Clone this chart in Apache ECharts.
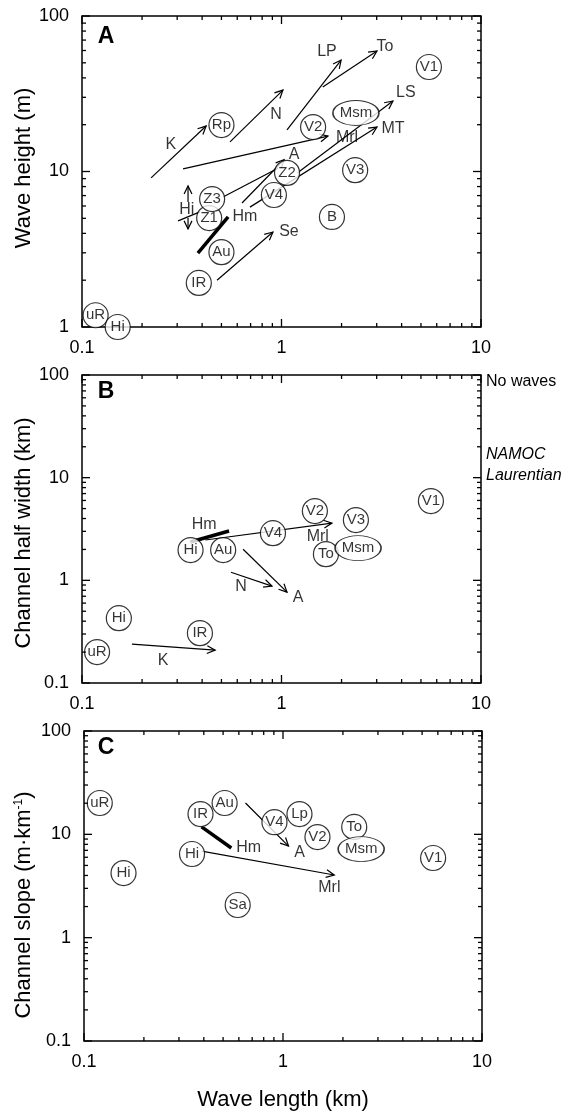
<!DOCTYPE html>
<html>
<head>
<meta charset="utf-8">
<script src="https://cdn.jsdelivr.net/npm/echarts@6/dist/echarts.min.js"></script>
<style>
  html, body { margin: 0; padding: 0; background: #fff; }
  #chart { width: 570px; height: 1114px; }
</style>
</head>
<body>
<div id="chart"></div>
<script>
// tick values (log axes)
const X_MAJOR = [0.1, 1, 10];
const X_MINOR = [0.2, 0.3, 0.4, 0.5, 0.6, 0.7, 0.8, 0.9, 2, 3, 4, 5, 6, 7, 8, 9];
const Y_MAJOR_A = [1, 10, 100];
const Y_MINOR_A = [2, 3, 4, 5, 6, 7, 8, 9, 20, 30, 40, 50, 60, 70, 80, 90];
const Y_MAJOR_BC = [0.1, 1, 10, 100];
const Y_MINOR_BC = [0.2, 0.3, 0.4, 0.5, 0.6, 0.7, 0.8, 0.9, 2, 3, 4, 5, 6, 7, 8, 9, 20, 30, 40, 50, 60, 70, 80, 90];

// ---- panel A : wave height vs wave length ----
const aCircles = [
  ['uR', 0.117, 1.19], ['Hi', 0.151, 1.0], ['IR', 0.385, 1.92], ['Au', 0.50, 3.03],
  ['Z1', 0.434, 5.02], ['Z3', 0.449, 6.65], ['Rp', 0.50, 19.9], ['V4', 0.916, 7.06],
  ['Z2', 1.066, 9.8], ['V2', 1.44, 19.3], ['V3', 2.34, 10.2], ['B', 1.79, 5.1], ['V1', 5.48, 47]
];
const aEllipses = [['Msm', 2.36, 23.8]];
const aLabels = [
  ['K', 0.279, 14.8], ['N', 0.938, 23.1], ['LP', 1.69, 58.7], ['To', 3.30, 64],
  ['LS', 4.2, 32], ['MT', 3.62, 19], ['Mrl', 2.13, 16.4], ['A', 1.156, 12.8],
  ['Hm', 0.656, 5.1], ['Hi', 0.335, 5.65], ['Se', 1.09, 4.08]
];
// [x0, y0, x1, y1]
const aArrows = [
  [0.222, 9.1, 0.419, 19.6],   // K
  [0.552, 15.5, 1.017, 33.4],  // N
  [0.321, 10.4, 1.71, 16.9],   // Mrl
  [1.066, 18.5, 1.99, 52.1],   // LP
  [1.61, 34.9, 3.01, 59.6],    // To
  [1.20, 9.78, 3.62, 28.4],    // LS
  [0.695, 5.9, 3.01, 19.3],    // MT
  [0.634, 6.27, 1.03, 11.9],   // A
  [0.475, 2.0, 0.906, 4.08],   // Se
  [0.34, 6.37, 0.34, 8.07],    // Hi up
  [0.34, 5.02, 0.34, 4.27]     // Hi down
];
const aLines = [
  [0.509, 6.86, 0.96, 10.5],
  [0.303, 4.81, 0.39, 5.5]
];
const aThick = [[0.381, 2.99, 0.54, 5.1]]; // Hm

// ---- panel B : channel half width ----
const bCircles = [
  ['Hi', 0.35, 1.97], ['Au', 0.51, 1.97], ['V4', 0.906, 2.88], ['V2', 1.47, 4.73],
  ['V3', 2.36, 3.86], ['To', 1.67, 1.80], ['V1', 5.61, 5.92], ['Hi', 0.153, 0.428],
  ['IR', 0.39, 0.306], ['uR', 0.119, 0.2]
];
const bEllipses = [['Msm', 2.42, 2.06]];
const bLabels = [
  ['Hm', 0.41, 3.53], ['Mrl', 1.52, 2.64], ['N', 0.627, 0.86], ['A', 1.21, 0.686], ['K', 0.255, 0.167]
];
const bArrows = [
  [0.415, 2.47, 1.79, 3.61],   // Mrl
  [0.642, 2.01, 1.066, 0.767], // A
  [0.558, 1.20, 0.896, 0.879], // N
  [0.178, 0.239, 0.465, 0.209] // K
];
const bLines = [];
const bThick = [[0.349, 2.36, 0.546, 3.02]];

// ---- panel C : channel slope ----
const cCircles = [
  ['uR', 0.12, 20.1], ['Hi', 0.158, 4.22], ['IR', 0.385, 15.7], ['Au', 0.509, 20.1],
  ['Hi', 0.349, 6.45], ['Sa', 0.592, 2.07], ['V4', 0.906, 13.1], ['Lp', 1.21, 15.7],
  ['V2', 1.49, 9.4], ['To', 2.28, 11.8], ['V1', 5.68, 5.9]
];
const cEllipses = [['Msm', 2.47, 7.2]];
const cLabels = [['Hm', 0.672, 7.37], ['A', 1.21, 6.59], ['Mrl', 1.71, 3.02]];
const cArrows = [
  [0.648, 20.1, 1.066, 7.7],   // A
  [0.39, 6.89, 1.81, 4.04]     // Mrl
];
const cLines = [];
const cThick = [[0.39, 11.8, 0.55, 7.37]];

const SANS = '"Liberation Sans", Arial, Helvetica, sans-serif';

// inward ticks on all four sides of a panel
function tickSeries(gi, axis, major, minor, ref) {
  const rows = major.map(v => [v, 1]).concat(minor.map(v => [v, 0]));
  const data = rows.map(r => axis === 'x' ? [r[0], ref, r[1]] : [ref, r[0], r[1]]);
  return {
    type: 'custom', xAxisIndex: gi, yAxisIndex: gi, silent: true, clip: false, z: 6,
    data: data,
    renderItem: function (params, api) {
      const cs = params.coordSys;
      const len = api.value(2) === 1 ? 8 : 4;
      const p = api.coord([api.value(0), api.value(1)]);
      const st = { stroke: '#000', lineWidth: 1.3 };
      if (axis === 'x') {
        const bot = cs.y + cs.height;
        return { type: 'group', children: [
          { type: 'line', shape: { x1: p[0], y1: bot, x2: p[0], y2: bot - len }, style: st },
          { type: 'line', shape: { x1: p[0], y1: cs.y, x2: p[0], y2: cs.y + len }, style: st }
        ] };
      }
      const right = cs.x + cs.width;
      return { type: 'group', children: [
        { type: 'line', shape: { x1: cs.x, y1: p[1], x2: cs.x + len, y2: p[1] }, style: st },
        { type: 'line', shape: { x1: right, y1: p[1], x2: right - len, y2: p[1] }, style: st }
      ] };
    }
  };
}

// segments, with or without open arrow head
function segSeries(gi, segs, head, width) {
  return {
    type: 'custom', xAxisIndex: gi, yAxisIndex: gi, silent: true, clip: false, z: 2,
    encode: { x: [0, 2], y: [1, 3] },
    data: segs,
    renderItem: function (params, api) {
      const p0 = api.coord([api.value(0), api.value(1)]);
      const p1 = api.coord([api.value(2), api.value(3)]);
      const st = { stroke: '#000', lineWidth: width, fill: null };
      const kids = [{ type: 'line', shape: { x1: p0[0], y1: p0[1], x2: p1[0], y2: p1[1] }, style: st }];
      if (head) {
        const ang = Math.atan2(p1[1] - p0[1], p1[0] - p0[0]);
        const L = 9, a = 0.45;
        const h1 = [p1[0] - L * Math.cos(ang - a), p1[1] - L * Math.sin(ang - a)];
        const h2 = [p1[0] - L * Math.cos(ang + a), p1[1] - L * Math.sin(ang + a)];
        kids.push({ type: 'polyline', shape: { points: [h1, p1, h2] }, style: st });
      }
      return { type: 'group', children: kids };
    }
  };
}

function markSeries(gi, items, size, z) {
  return {
    type: 'scatter', xAxisIndex: gi, yAxisIndex: gi, silent: true, clip: false, z: z,
    symbol: 'circle', symbolSize: size,
    itemStyle: { color: '#fff', borderColor: '#000', borderWidth: 1.2 },
    label: { show: true, position: 'inside', formatter: '{b}', color: '#000', fontSize: 15, fontFamily: SANS },
    data: items.map(d => ({ name: d[0], value: [d[1], d[2]] }))
  };
}

function textSeries(gi, items) {
  return {
    type: 'scatter', xAxisIndex: gi, yAxisIndex: gi, silent: true, clip: false, z: 4,
    symbol: 'circle', symbolSize: 1,
    itemStyle: { color: 'rgba(0,0,0,0)' },
    label: { show: true, position: 'inside', formatter: '{b}', color: '#000', fontSize: 16, fontFamily: SANS },
    data: items.map(d => ({ name: d[0], value: [d[1], d[2]] }))
  };
}

function panel(gi, circles, ellipses, labels, arrows, lines, thick, yMajor, yMinor, yRef) {
  return [
    segSeries(gi, lines, false, 1.2),
    segSeries(gi, arrows, true, 1.2),
    segSeries(gi, thick, false, 3.5),
    markSeries(gi, circles, 25, 3),
    markSeries(gi, ellipses, [46, 25], 3),
    textSeries(gi, labels),
    tickSeries(gi, 'x', X_MAJOR, X_MINOR, yRef),
    tickSeries(gi, 'y', yMajor, yMinor, 1)
  ];
}

const grids = [
  { left: 82, top: 16, width: 399, height: 311 },
  { left: 82, top: 375, width: 399, height: 308 },
  { left: 84, top: 731, width: 398, height: 310 }
].map(g => Object.assign(g, { show: true, borderColor: '#000', borderWidth: 1.5, backgroundColor: 'transparent' }));

const axisBase = {
  type: 'log', logBase: 10,
  axisLine: { show: false }, axisTick: { show: false }, splitLine: { show: false },
  axisLabel: { color: '#000', fontSize: 18, fontFamily: SANS, margin: 12 }
};
const xAxes = [0, 1, 2].map(i => Object.assign({}, axisBase, { gridIndex: i, min: 0.1, max: 10 }));
const yMins = [1, 0.1, 0.1];
const yAxes = [0, 1, 2].map(i => Object.assign({}, axisBase, {
  gridIndex: i, min: yMins[i], max: 100,
  axisLabel: Object.assign({}, axisBase.axisLabel, { margin: 13 })
}));

const titleFont = { fontSize: 22, fontFamily: SANS, fill: '#000' };
function txt(text, x, y, extra, rot) {
  return {
    type: 'text', x: x, y: y, rotation: rot || 0, silent: true,
    style: Object.assign({ text: text, align: 'center', verticalAlign: 'middle', fill: '#000' }, extra)
  };
}

const option = {
  animation: false,
  grid: grids,
  xAxis: xAxes,
  yAxis: yAxes,
  series: [].concat(
    panel(0, aCircles, aEllipses, aLabels, aArrows, aLines, aThick, Y_MAJOR_A, Y_MINOR_A, 10),
    panel(1, bCircles, bEllipses, bLabels, bArrows, bLines, bThick, Y_MAJOR_BC, Y_MINOR_BC, 1),
    panel(2, cCircles, cEllipses, cLabels, cArrows, cLines, cThick, Y_MAJOR_BC, Y_MINOR_BC, 1)
  ),
  graphic: [
    txt('A', 106, 37, { fontSize: 23, fontWeight: 'bold', fontFamily: SANS }),
    txt('B', 106, 392, { fontSize: 23, fontWeight: 'bold', fontFamily: SANS }),
    txt('C', 106, 748, { fontSize: 23, fontWeight: 'bold', fontFamily: SANS }),
    txt('Wave height (m)', 24, 168, titleFont, Math.PI / 2),
    txt('Channel half width (km)', 24, 533, titleFont, Math.PI / 2),
    txt('{a|Channel slope (m·km}{s|-1}{a|)}', 24, 905, {
      rich: {
        a: { fontSize: 22, fontFamily: SANS, fill: '#000' },
        s: { fontSize: 12, fontFamily: SANS, fill: '#000', verticalAlign: 'top' }
      }
    }, Math.PI / 2),
    txt('Wave length (km)', 283, 1100, titleFont),
    txt('No waves', 486, 382, { fontSize: 16, fontFamily: SANS, align: 'left' }),
    txt('NAMOC', 486, 455, { fontSize: 16, fontFamily: SANS, fontStyle: 'italic', align: 'left' }),
    txt('Laurentian', 486, 476, { fontSize: 16, fontFamily: SANS, fontStyle: 'italic', align: 'left' })
  ]
};

const chart = echarts.init(document.getElementById('chart'), null, { renderer: 'canvas' });
chart.setOption(option);
</script>
</body>
</html>
